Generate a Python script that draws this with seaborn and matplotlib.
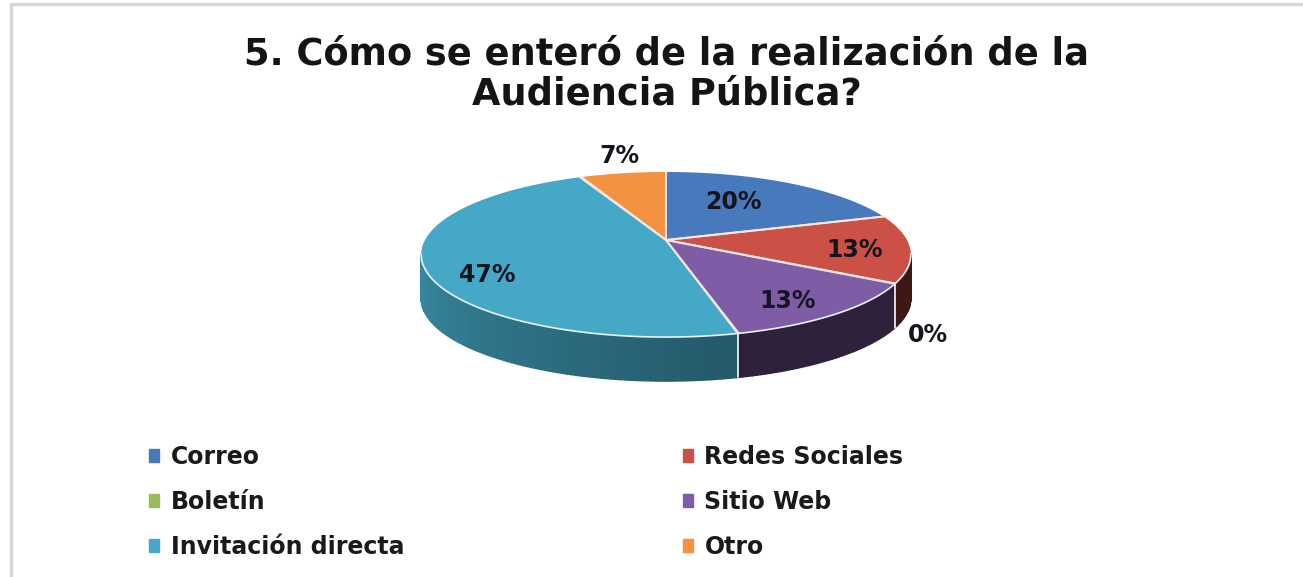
import numpy as np
import seaborn as sns
import matplotlib
matplotlib.use("Agg")
from matplotlib import pyplot as plt
from matplotlib.patches import Patch
from matplotlib.colors import to_rgb

title = "5. Cómo se enteró de la realización de la\nAudiencia Pública?"
categories = ["Correo", "Redes Sociales", "Boletín", "Sitio Web", "Invitación directa", "Otro"]
percent = [20, 13.33, 0, 12.7, 47.3, 6.67]
percent_labels = ["20%", "13%", "0%", "13%", "47%", "7%"]
colors = ["#4779bc", "#cb5146", "#9bbb59", "#7f5ca6", "#44a8c6", "#f59242"]
side_shade = [0.6, 0.43, 0.5, 0.52, 0.82, 0.6]

# where the percent labels sit, in pixels
label_xy = [(733, 202), (855, 250), (928, 335), (788, 301), (487, 275), (619, 156)]

# pie geometry, the original has a perspective so the hub is off centre
hub_x, hub_y = 666, 240
sx, sy, k = 241, 80, 0.176
depth = 44

sns.set_theme(style="white")
plt.rcParams['font.family'] = ['DejaVu Sans']


def project(angle, r=1.0):
    a = np.radians(angle)
    u, v = r * np.cos(a), r * np.sin(a)
    d = 1 + k * v
    return hub_x + sx * u / d, hub_y - sy * v / d


fig = plt.figure(figsize=(13.03, 5.77), dpi=100)
ax = fig.add_axes([0, 0, 1, 1])
ax.set_xlim(0, 1303)
ax.set_ylim(577, 0)
ax.axis("off")

# frame of the chart
ax.plot([11, 11, 1303], [577, 4, 4], color="#d6d6d6", lw=2.5)

# slices run clockwise from the top
ends = 90 - np.cumsum(percent) * 3.6
starts = np.r_[90, ends[:-1]]

# side wall first, only the part facing the viewer (190 to 350 deg)
for s, e, c, sh in zip(starts, ends, colors, side_shade):
    if s == e:
        continue
    lo, hi = min(s, e) % 360, min(s, e) % 360 + abs(s - e)
    lo, hi = max(lo, 190), min(hi, 350)
    if hi <= lo:
        continue
    base = np.array(to_rgb(c))
    for t in np.arange(lo, hi, 1.0):
        # shade goes darker toward the front right
        f = sh * (1 - 0.36 * np.clip((t - 190) / 95, 0, 1))
        if t > 285:
            f = sh * 0.7
        x1, y1 = project(t)
        x2, y2 = project(min(t + 1, hi))
        ax.fill([x1, x2, x2, x1], [y1, y2, y2 + depth, y1 + depth],
                color=base * f, lw=1.0)

# seams on the wall
for b in ends[[2, 3]]:
    x, y = project(b)
    ax.plot([x, x], [y, y + depth], color="white", lw=1.3, alpha=0.9)

# top face
for s, e, c in zip(starts, ends, colors):
    if s == e:
        continue
    t = np.arange(e, s + 0.5, 0.5)
    x, y = project(t)
    ax.fill(np.r_[hub_x, x], np.r_[hub_y, y], color=c, lw=0)
    ax.plot(np.r_[x[0], hub_x, x[-1]], np.r_[y[0], hub_y, y[-1]],
            color="#f3e6e0", lw=1.4, solid_joinstyle="round")

# light rim along the front
t = np.arange(190, 350.5, 0.5)
x, y = project(t)
ax.plot(x, y, color="#e8f2f6", lw=1.2)

for txt, (px, py) in zip(percent_labels, label_xy):
    ax.text(px, py, txt, ha="center", va="center", fontsize=17, fontweight="bold",
            color="#15151f")

ax.text(667, 74, title, ha="center", va="center", fontsize=26.5, fontweight="bold",
        color="#141414", linespacing=1.12)

# legend fills by column, so reorder to get the two-by-three layout of the original
order = [0, 2, 4, 1, 3, 5]
handles = [Patch(color=colors[i], label=categories[i]) for i in order]
leg = ax.legend(handles=handles, ncol=2, loc="upper left",
                bbox_to_anchor=(130, 426), bbox_transform=ax.transData,
                frameon=False, handlelength=0.42, handleheight=0.42, handletextpad=0.5,
                labelspacing=0.89, columnspacing=11.8, borderpad=0.3,
                prop={"size": 17, "weight": "bold"})
for text in leg.get_texts():
    text.set_color("#1a1a1a")

fig.savefig("out.png", dpi=100)
